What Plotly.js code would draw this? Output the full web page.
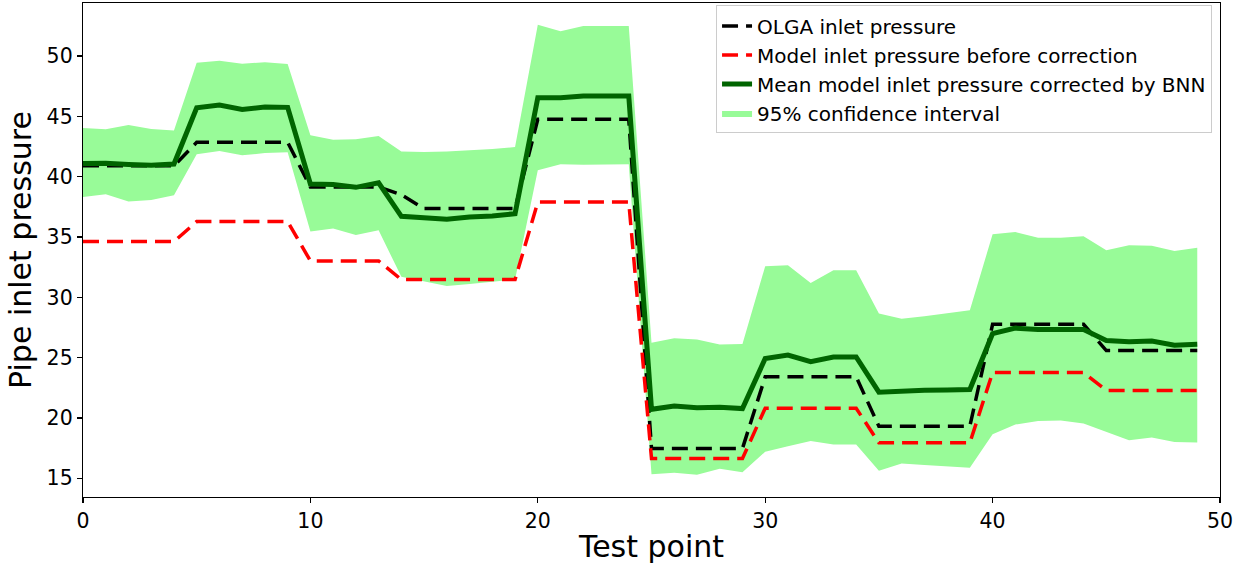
<!DOCTYPE html>
<html>
<head>
<meta charset="utf-8">
<script src="https://cdn.plot.ly/plotly-3.0.1.min.js"></script>
<style>html,body{margin:0;padding:0;background:#fff;}#chart{width:1246px;height:565px;}</style>
</head>
<body>
<div id="chart"></div>
<script>
const testPoints = Array.from({length: 50}, (_, i) => i);

const olgaPressure = [
  40.9, 40.9, 40.9, 40.9, 40.9, 42.85, 42.85, 42.85, 42.85, 42.85,
  39.15, 39.15, 39.15, 39.15, 38.5, 37.36, 37.36, 37.36, 37.36, 37.36,
  44.76, 44.76, 44.76, 44.76, 44.76, 17.47, 17.47, 17.47, 17.47, 17.47,
  23.41, 23.41, 23.41, 23.41, 23.41, 19.32, 19.32, 19.32, 19.32, 19.32,
  27.77, 27.77, 27.77, 27.77, 27.77, 25.59, 25.59, 25.59, 25.59, 25.59
];

const modelBefore = [
  34.62, 34.62, 34.62, 34.62, 34.62, 36.28, 36.28, 36.28, 36.28, 36.28,
  33.02, 33.02, 33.02, 33.02, 31.47, 31.47, 31.47, 31.47, 31.47, 31.47,
  37.9, 37.9, 37.9, 37.9, 37.9, 16.64, 16.64, 16.64, 16.64, 16.64,
  20.81, 20.81, 20.81, 20.81, 20.81, 17.94, 17.94, 17.94, 17.94, 17.94,
  23.77, 23.77, 23.77, 23.77, 23.77, 22.28, 22.28, 22.28, 22.28, 22.28
];

const meanCorrected = [
  41.1, 41.12, 41.02, 40.96, 41.05, 45.72, 45.94, 45.58, 45.78, 45.75,
  39.4, 39.35, 39.12, 39.5, 36.72, 36.62, 36.48, 36.66, 36.74, 36.94,
  46.55, 46.55, 46.69, 46.7, 46.7, 20.72, 21.0, 20.84, 20.9, 20.78,
  24.93, 25.22, 24.66, 25.06, 25.06, 22.14, 22.24, 22.3, 22.33, 22.36,
  27.0, 27.45, 27.33, 27.36, 27.33, 26.42, 26.31, 26.38, 26.03, 26.11
];

const ciUpper = [
  44.03, 43.93, 44.28, 43.95, 43.84, 49.45, 49.61, 49.37, 49.48, 49.34,
  43.43, 43.07, 43.1, 43.37, 42.1, 42.05, 42.1, 42.19, 42.3, 42.46,
  52.6, 52.05, 52.49, 52.49, 52.49, 26.23, 26.61, 26.5, 26.09, 26.14,
  32.58, 32.66, 31.19, 32.25, 32.25, 28.66, 28.22, 28.43, 28.66, 28.93,
  35.23, 35.42, 34.95, 34.95, 35.06, 33.9, 34.32, 34.28, 33.85, 34.12
];

const ciLower = [
  38.32, 38.54, 37.94, 38.07, 38.46, 41.86, 42.13, 41.77, 41.96, 42.02,
  35.45, 35.7, 35.17, 35.56, 31.7, 31.3, 30.95, 31.1, 31.3, 31.47,
  40.53, 41.03, 41.0, 41.03, 41.03, 15.34, 15.45, 15.29, 15.79, 15.51,
  17.2, 17.66, 18.1, 17.8, 17.8, 15.62, 16.23, 16.1, 16.0, 15.87,
  18.65, 19.46, 19.76, 19.8, 19.54, 18.85, 18.16, 18.39, 18.0, 17.97
];

const font = "DejaVu Sans, sans-serif";

const traces = [
  {x: testPoints, y: ciLower, mode: 'lines', line: {width: 0, color: 'rgba(0,0,0,0)'},
   showlegend: false, hoverinfo: 'skip'},
  {x: testPoints, y: ciUpper, mode: 'lines', line: {width: 0, color: 'rgba(0,0,0,0)'},
   fill: 'tonexty', fillcolor: '#98FB98', name: '95% confidence interval', legendrank: 4},
  {x: testPoints, y: olgaPressure, mode: 'lines', name: 'OLGA inlet pressure',
   line: {color: 'black', width: 3.5, dash: '16px,8px'}, legendrank: 1},
  {x: testPoints, y: modelBefore, mode: 'lines', name: 'Model inlet pressure before correction',
   line: {color: '#ff0000', width: 3.5, dash: '16px,8px'}, legendrank: 2},
  {x: testPoints, y: meanCorrected, mode: 'lines', name: 'Mean model inlet pressure corrected by BNN',
   line: {color: '#006400', width: 5}, legendrank: 3}
];

const layout = {
  width: 1246, height: 565,
  margin: {l: 83, r: 26, t: 3, b: 68},
  paper_bgcolor: 'white', plot_bgcolor: 'white',
  font: {family: font, color: 'black'},
  showlegend: true,
  legend: {
    x: 0.993, xanchor: 'right', y: 0.995, yanchor: 'top',
    traceorder: 'normal',
    bgcolor: 'rgba(255,255,255,0.9)', bordercolor: '#cccccc', borderwidth: 1,
    font: {family: font, size: 20, color: 'black'},
    tracegroupgap: 0
  },
  xaxis: {
    range: [0, 50], tickvals: [0, 10, 20, 30, 40, 50],
    showgrid: false, zeroline: false,
    showline: true, mirror: true, linecolor: 'black', linewidth: 1.2,
    ticks: 'outside', ticklen: 5, tickwidth: 1.2, tickcolor: 'black',
    tickfont: {family: font, size: 20.5},
    title: {text: 'Test point', font: {family: font, size: 30}, standoff: 4}
  },
  yaxis: {
    range: [13.45, 54.4], tickvals: [15, 20, 25, 30, 35, 40, 45, 50],
    showgrid: false, zeroline: false,
    showline: true, mirror: true, linecolor: 'black', linewidth: 1.2,
    ticks: 'outside', ticklen: 5, tickwidth: 1.2, tickcolor: 'black',
    tickfont: {family: font, size: 20.5},
    title: {text: 'Pipe inlet pressure', font: {family: font, size: 30}, standoff: 6}
  }
};

Plotly.newPlot('chart', traces, layout, {displayModeBar: false, staticPlot: true});
</script>
</body>
</html>
